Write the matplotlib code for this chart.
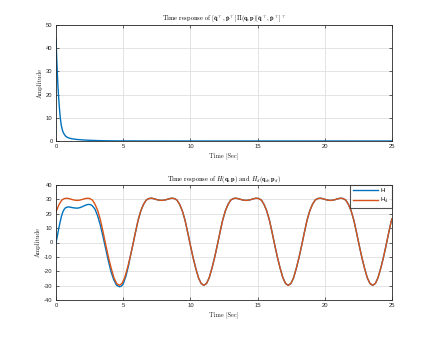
import matplotlib
matplotlib.use("Agg")
import matplotlib.pyplot as plt
import numpy as np

# ---------------- data ----------------
# top: quadratic form response
v_t = [0.0, 0.05, 0.1, 0.15, 0.2, 0.25, 0.3, 0.35, 0.4, 0.5, 0.6, 0.7, 0.8, 1.0,
       1.25, 1.5, 2.0, 2.5, 3.0, 3.5, 4.0, 5.0, 7.0, 10.0, 15.0, 25.0]
v_y = [44.3, 36.0, 29.0, 23.0, 18.5, 14.5, 11.0, 8.5, 6.5, 4.2, 3.0, 2.2, 1.7, 1.2,
       0.9, 0.7, 0.45, 0.3, 0.2, 0.12, 0.08, 0.04, 0.02, 0.01, 0.005, 0.0]

# bottom: desired Hamiltonian Hd
hd_t = [0.00, 0.03, 0.23, 0.43, 0.63, 0.83, 1.03, 1.23, 1.43, 1.57,
        1.71, 1.91, 2.11, 2.31, 2.51, 2.71, 2.91, 3.11, 3.31, 3.51, 3.71, 3.91, 4.11, 4.31, 4.51, 4.71,
        4.91, 5.11, 5.31, 5.51, 5.71, 5.91, 6.11, 6.31, 6.51, 6.71, 6.91, 7.11, 7.31, 7.51, 7.71, 7.85,
        8.00, 8.20, 8.40, 8.60, 8.80, 9.00, 9.20, 9.40, 9.60, 9.80, 10.00, 10.20, 10.40, 10.60, 10.80, 11.00,
        11.20, 11.40, 11.60, 11.80, 12.00, 12.20, 12.40, 12.60, 12.80, 13.00, 13.20, 13.40, 13.60, 13.80, 14.00, 14.14,
        14.28, 14.48, 14.68, 14.88, 15.08, 15.28, 15.48, 15.68, 15.88, 16.08, 16.28, 16.48, 16.68, 16.88, 17.08, 17.28,
        17.48, 17.68, 17.88, 18.08, 18.28, 18.48, 18.68, 18.88, 19.08, 19.28, 19.48, 19.68, 19.88, 20.08, 20.28, 20.42,
        20.56, 20.76, 20.96, 21.16, 21.36, 21.56, 21.76, 21.96, 22.16, 22.36, 22.56, 22.76, 22.96, 23.16, 23.36, 23.56,
        23.76, 23.96, 24.16, 24.36, 24.56, 24.76, 24.96, 25.00]
hd_y = [21.0, 22.0, 26.5, 29.5, 30.6, 30.8, 30.4, 29.8, 29.4, 29.3,
        29.4, 29.8, 30.4, 30.8, 30.6, 29.5, 26.5, 22.0, 15.5, 7.0, -2.0, -10.5, -18.0, -24.5, -28.5, -29.8,
        -28.5, -24.5, -18.0, -10.5, -2.0, 7.0, 15.5, 22.0, 26.5, 29.5, 30.6, 30.8, 30.4, 29.8, 29.4, 29.3,
        29.4, 29.8, 30.4, 30.8, 30.6, 29.5, 26.5, 22.0, 15.5, 7.0, -2.0, -10.5, -18.0, -24.5, -28.5, -29.8,
        -28.5, -24.5, -18.0, -10.5, -2.0, 7.0, 15.5, 22.0, 26.5, 29.5, 30.6, 30.8, 30.4, 29.8, 29.4, 29.3,
        29.4, 29.8, 30.4, 30.8, 30.6, 29.5, 26.5, 22.0, 15.5, 7.0, -2.0, -10.5, -18.0, -24.5, -28.5, -29.8,
        -28.5, -24.5, -18.0, -10.5, -2.0, 7.0, 15.5, 22.0, 26.5, 29.5, 30.6, 30.8, 30.4, 29.8, 29.4, 29.3,
        29.4, 29.8, 30.4, 30.8, 30.6, 29.5, 26.5, 22.0, 15.5, 7.0, -2.0, -10.5, -18.0, -24.5, -28.5, -29.8,
        -28.5, -24.5, -18.0, -10.5, -2.0, 7.0, 15.5, 16.5]

# bottom: actual Hamiltonian H (transient part; afterwards identical to Hd)
h_t_early = [0.0, 0.05, 0.1, 0.2, 0.3, 0.4, 0.5, 0.6, 0.7, 0.85, 1.0, 1.2, 1.4, 1.6, 1.8,
             2.0, 2.2, 2.4, 2.55, 2.7, 2.9, 3.1, 3.3, 3.5, 3.7, 3.9, 4.1, 4.3, 4.5, 4.72,
             4.87, 5.0, 5.2, 5.4]
h_y_early = [0.0, 2.0, 4.5, 9.5, 14.0, 18.0, 21.0, 23.0, 24.1, 24.7, 24.7, 24.3, 24.0, 23.9, 24.3,
             25.1, 26.0, 26.5, 26.4, 25.6, 23.2, 18.5, 12.0, 4.0, -4.5, -13.0, -20.5, -26.0, -29.7, -30.8,
             -30.3, -28.8, -23.5, -16.0]
h_switch = 5.45

x_ticks = [0, 5, 10, 15, 20, 25]
top_yticks = [0, 10, 20, 30, 40, 50]
bot_yticks = [-40, -30, -20, -10, 0, 10, 20, 30, 40]

# ---------------- style ----------------
plt.rcParams['mathtext.fontset'] = 'cm'
plt.rcParams['font.family'] = ['Liberation Sans', 'DejaVu Sans']
plt.rcParams['axes.unicode_minus'] = False

C_BLUE = '#0072BD'
C_ORANGE = '#D95319'
AX_COL = '#262626'
GRID_COL = '#dfdfdf'

fig = plt.figure(figsize=(4.32, 3.38), dpi=100)
ax1 = fig.add_axes([56/432, 1-141/338, 336/432, 116/338])
ax2 = fig.add_axes([56/432, 1-300/338, 336/432, 115/338])

def style(ax, yticks):
    ax.set_xlim(0, 25)
    ax.set_xticks(x_ticks)
    ax.set_yticks(yticks)
    ax.set_ylim(yticks[0], yticks[-1])
    ax.grid(True, color=GRID_COL, linewidth=0.6)
    ax.set_axisbelow(True)
    ax.tick_params(direction='in', length=2.5, width=0.5, top=True, right=True,
                   labelsize=4.2, colors=AX_COL, pad=2.5)
    for s in ax.spines.values():
        s.set_color(AX_COL)
        s.set_linewidth(0.6)
    ax.set_xlabel('Time [Sec]', fontfamily='cmr10', fontsize=4.6, color=AX_COL, labelpad=2)
    ax.set_ylabel('Amplitude', fontfamily='cmr10', fontsize=4.6, color=AX_COL, labelpad=2)

ax1.plot(v_t, v_y, color=C_BLUE, lw=1.0)
style(ax1, top_yticks)
ax1.set_title(r'Time response of $[\tilde{\mathbf{q}}^\top,\tilde{\mathbf{p}}^\top]\mathbf{\Pi}(\mathbf{q},\mathbf{p})[\tilde{\mathbf{q}}^\top,\tilde{\mathbf{p}}^\top]^\top$',
              fontfamily='cmr10', fontsize=4.6, color='black', pad=3)

hd_t_arr = np.array(hd_t)
hd_y_arr = np.array(hd_y)
mask = hd_t_arr > h_switch
h_t = np.concatenate([h_t_early, hd_t_arr[mask]])
h_y = np.concatenate([h_y_early, hd_y_arr[mask]])

ax2.plot(h_t, h_y, color=C_BLUE, lw=1.0, label='H')
ax2.plot(hd_t, hd_y, color=C_ORANGE, lw=1.0, label=r'H$_{\rm d}$')
style(ax2, bot_yticks)
ax2.set_title(r'Time response of $H(\mathbf{q},\mathbf{p})$ and $H_d(\mathbf{q}_d,\mathbf{p}_d)$',
              fontfamily='cmr10', fontsize=4.6, color='black', pad=3)
leg = ax2.legend(loc='upper right', fontsize=4.5, frameon=True, fancybox=False,
                 edgecolor=AX_COL, borderaxespad=0.0, handlelength=4.0,
                 borderpad=0.4, labelspacing=0.5, handletextpad=0.4)
leg.get_frame().set_linewidth(0.8)

fig.savefig('out.png', dpi=100)
